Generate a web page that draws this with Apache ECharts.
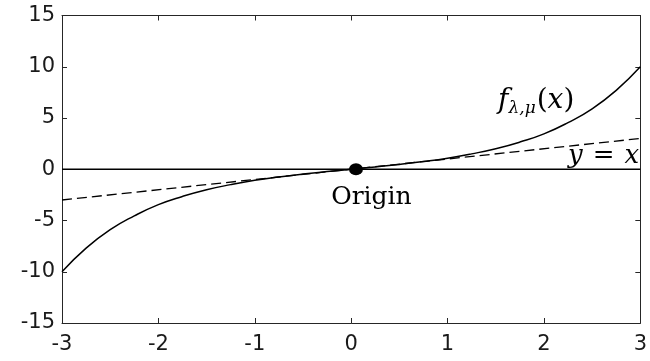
<!DOCTYPE html>
<html>
<head>
<meta charset="utf-8">
<script src="https://cdn.jsdelivr.net/npm/echarts@6/dist/echarts.min.js"></script>
<style>
  html, body { margin: 0; padding: 0; background: #fff; }
  #chart { width: 650px; height: 361px; }
</style>
</head>
<body>
<div id="chart"></div>
<script>
// values
var xs = [-3, -2.75, -2.5, -2.25, -2, -1.75, -1.5, -1.25, -1, -0.75, -0.5, -0.25, 0,
  0.25, 0.5, 0.75, 1, 1.25, 1.5, 1.75, 2, 2.25, 2.5, 2.75, 3];
var fVals = [-10, -7.7, -5.9, -4.55, -3.45, -2.65, -2.0, -1.5, -1.08, -0.75, -0.47, -0.23, 0,
  0.23, 0.47, 0.75, 1.08, 1.5, 2.0, 2.65, 3.45, 4.55, 5.9, 7.7, 10];
var lineX = [-3, 3];
var lineY = [-3, 3];
var zeroY = [0, 0];
var origin = [0.05, 0];
var xTicks = [-3, -2, -1, 0, 1, 2, 3];
var yTicks = [-15, -10, -5, 0, 5, 10, 15];

var serif = 'DejaVu Serif';
var axisColor = '#262626';

function pairs(a, b) {
  return a.map(function (v, i) { return [v, b[i]]; });
}

var myChart = echarts.init(document.getElementById('chart'));

var tickStyle = { show: true, inside: true, length: 5, lineStyle: { color: axisColor, width: 1 } };
var lineStyleAxis = { show: true, onZero: false, lineStyle: { color: axisColor, width: 1 } };

var option = {
  animation: false,
  grid: { left: 62, right: 3, top: 15.5, bottom: 38 },
  xAxis: [
    {
      type: 'value', min: xTicks[0], max: xTicks[xTicks.length - 1], interval: 1,
      position: 'bottom',
      axisLine: lineStyleAxis, axisTick: tickStyle, splitLine: { show: false },
      axisLabel: { color: '#1a1a1a', fontFamily: 'DejaVu Sans', fontSize: 21, margin: 11 }
    },
    {
      type: 'value', min: xTicks[0], max: xTicks[xTicks.length - 1], interval: 1,
      position: 'top',
      axisLine: lineStyleAxis, axisTick: tickStyle, splitLine: { show: false },
      axisLabel: { show: false }
    }
  ],
  yAxis: [
    {
      type: 'value', min: yTicks[0], max: yTicks[yTicks.length - 1], interval: 5,
      position: 'left',
      axisLine: lineStyleAxis, axisTick: tickStyle, splitLine: { show: false },
      axisLabel: { color: '#1a1a1a', fontFamily: 'DejaVu Sans', fontSize: 21, margin: 7 }
    },
    {
      type: 'value', min: yTicks[0], max: yTicks[yTicks.length - 1], interval: 5,
      position: 'right',
      axisLine: lineStyleAxis, axisTick: tickStyle, splitLine: { show: false },
      axisLabel: { show: false }
    }
  ],
  series: [
    {
      name: 'zero',
      type: 'line',
      data: pairs(lineX, zeroY),
      symbol: 'none',
      lineStyle: { color: '#000', width: 1.5 }
    },
    {
      name: 'y=x',
      type: 'line',
      data: pairs(lineX, lineY),
      symbol: 'none',
      lineStyle: { color: '#000', width: 1.3, type: [10, 5] }
    },
    {
      name: 'f',
      type: 'line',
      data: pairs(xs, fVals),
      symbol: 'none',
      smooth: true,
      lineStyle: { color: '#000', width: 1.5 }
    },
    {
      name: 'origin',
      type: 'scatter',
      data: [origin],
      symbol: 'circle',
      symbolSize: [14, 12],
      itemStyle: { color: '#000', opacity: 1 },
      z: 5
    },
    {
      name: 'labels',
      type: 'scatter',
      symbolSize: 0,
      silent: true,
      itemStyle: { opacity: 1 },
      data: [
        {
          value: [0.21, -2.75],
          label: {
            show: true, position: 'inside', formatter: 'Origin',
            fontFamily: serif, fontSize: 25, color: '#000'
          }
        },
        {
          value: [1.92, 6.7],
          label: {
            show: true, position: 'inside',
            formatter: '{f|f}{s|λ,μ}{p|(}{f|x}{p|)}',
            rich: {
              f: { fontFamily: serif, fontStyle: 'italic', fontSize: 28, color: '#000' },
              s: { fontFamily: serif, fontStyle: 'italic', fontSize: 17, color: '#000', padding: [16, 1, 0, 0] },
              p: { fontFamily: serif, fontSize: 28, color: '#000' }
            }
          }
        },
        {
          value: [2.62, 1.3],
          label: {
            show: true, position: 'inside',
            formatter: '{i|y}{p|=}{i|x}',
            rich: {
              i: { fontFamily: serif, fontStyle: 'italic', fontSize: 26, color: '#000' },
              p: { fontFamily: serif, fontSize: 26, color: '#000', padding: [0, 10, 0, 10] }
            }
          }
        }
      ]
    }
  ]
};

myChart.setOption(option);
</script>
</body>
</html>
